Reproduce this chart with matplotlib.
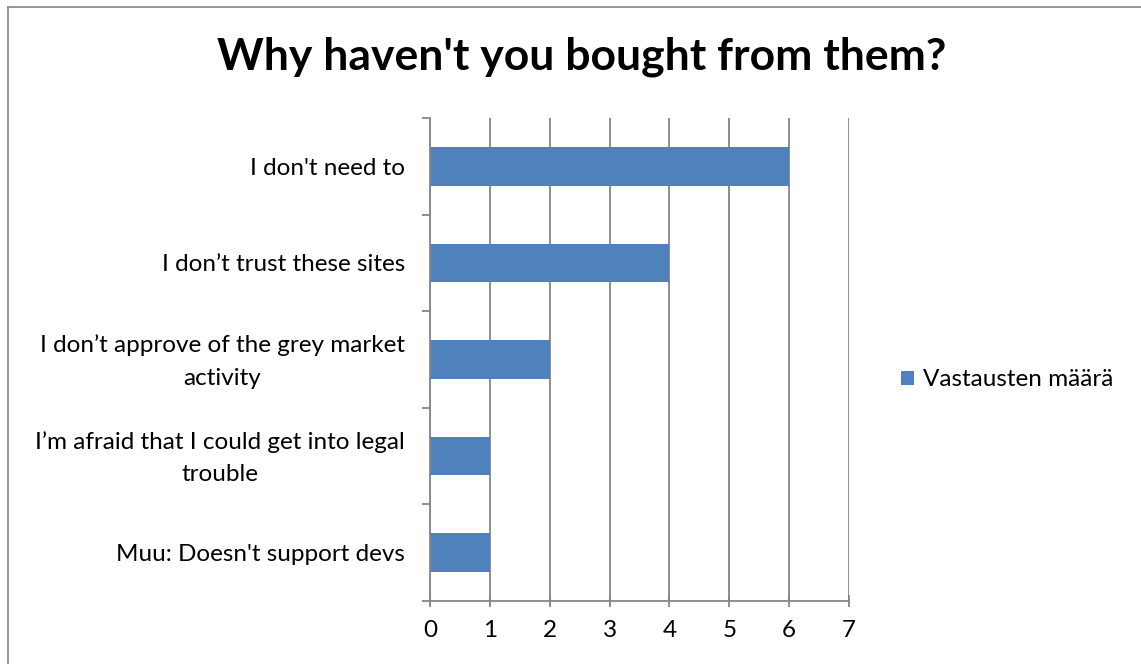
import matplotlib
matplotlib.use("Agg")
import matplotlib.pyplot as plt
from matplotlib.lines import Line2D
from matplotlib.transforms import ScaledTranslation

plt.rcParams['font.family'] = ['Lato', 'DejaVu Sans']

categories = [
    "I don't need to",
    "I don\u2019t trust these sites",
    "I don\u2019t approve of the grey market\nactivity",
    "I\u2019m afraid that I could get into legal\ntrouble",
    "Muu: Doesn't support devs",
]
values = [6, 4, 2, 1, 1]
series_name = "Vastausten m\u00e4\u00e4r\u00e4"
title = "Why haven't you bought from them?"
x_ticks = [0, 1, 2, 3, 4, 5, 6, 7]

bar_color = "#4F81BD"
grid_color = "#868686"
label_size = 17.5

W, H = 1141, 664
fig = plt.figure(figsize=(W / 100, H / 100), dpi=100)
fig.patch.set_facecolor("white")

# chart frame: left and top edges
frame_x, frame_y = 7.5 / W, 1 - 6.5 / H
fig.add_artist(Line2D([frame_x, frame_x], [0, frame_y], transform=fig.transFigure,
                      color="#8c8c8c", linewidth=1.3))
fig.add_artist(Line2D([frame_x, 1], [frame_y, frame_y], transform=fig.transFigure,
                      color="#8c8c8c", linewidth=1.3))

ax = fig.add_axes([430 / W, 1 - 601 / H, (849 - 430) / W, (601 - 118) / H])

n = len(categories)
ypos = [n - 1 - i for i in range(n)]
ax.barh(ypos, values, height=0.4, color=bar_color, label=series_name, zorder=3)

ax.set_xlim(0, 7)
ax.set_ylim(-0.5, n - 0.5)
ax.set_xticks(x_ticks)
ax.set_xticklabels([str(t) for t in x_ticks], fontsize=label_size)
ax.xaxis.grid(True, color=grid_color, linewidth=1.3, zorder=0)

ax.set_yticks(ypos)
ax.set_yticklabels(categories, fontsize=label_size, multialignment='center', linespacing=1.7)
ax.tick_params(axis='y', length=0, pad=18)
ax.set_yticks([i - 0.5 for i in range(n + 1)], minor=True)
ax.tick_params(axis='y', which='minor', length=6, width=1.3, color=grid_color, direction='out')
ax.tick_params(axis='x', length=8, width=1.3, color=grid_color, direction='inout', pad=10)

# wrapped labels sit a little higher so the two lines centre on the bar
lift = ScaledTranslation(0, 6 / 100, fig.dpi_scale_trans)
for lbl in ax.get_yticklabels():
    if "\n" in lbl.get_text():
        lbl.set_transform(lbl.get_transform() + lift)

for side in ("top", "right"):
    ax.spines[side].set_visible(False)
for side in ("left", "bottom"):
    ax.spines[side].set_color(grid_color)
    ax.spines[side].set_linewidth(1.3)
    ax.spines[side].set_zorder(4)

fig.text(582 / W, 1 - 57 / H, title, ha='center', va='center', fontsize=32, fontweight='bold')

fig.legend(loc='center left', bbox_to_anchor=(879 / W, 1 - 380 / H), frameon=False,
           fontsize=label_size, handlelength=0.55, handleheight=0.55, handletextpad=0.35)

fig.savefig("out.png", dpi=100)
